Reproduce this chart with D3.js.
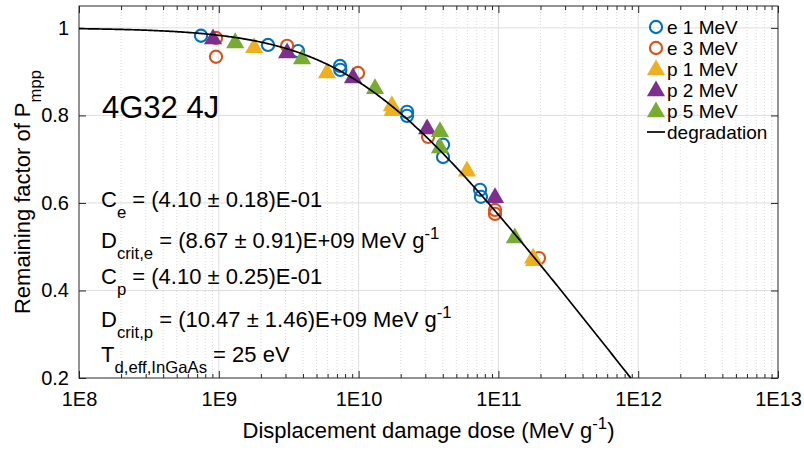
<!DOCTYPE html>
<html>
<head>
<meta charset="utf-8">
<script src="https://cdn.jsdelivr.net/npm/d3@7"></script>
<style>
  html, body { margin: 0; padding: 0; background: #fff; }
  svg { display: block; font-family: "Liberation Sans", Arial, sans-serif; }
</style>
</head>
<body>
<svg id="chart" width="804" height="450"></svg>
<script>
// Axis ticks
const xTickValues = [1e8, 1e9, 1e10, 1e11, 1e12, 1e13];
const xTickLabels = ["1E8", "1E9", "1E10", "1E11", "1E12", "1E13"];
const yTickValues = [0.2, 0.4, 0.6, 0.8, 1];
const yTickLabels = ["0.2", "0.4", "0.6", "0.8", "1"];

// Measured remaining factor of Pmpp vs displacement damage dose (MeV/g)
const e1Dose   = [7.46e8, 2.25e9, 3.69e9, 7.36e9, 7.4e9, 2.22e10, 2.22e10, 4.02e10, 4.02e10, 7.39e10, 7.5e10];
const e1Factor = [0.982, 0.961, 0.947, 0.913, 0.904, 0.808, 0.799, 0.733, 0.705, 0.630, 0.614];

const e3Dose   = [9.55e8, 9.55e8, 3.08e9, 9.9e9, 3.14e10, 9.46e10, 9.46e10, 1.95e11];
const e3Factor = [0.977, 0.934, 0.959, 0.897, 0.751, 0.584, 0.575, 0.474];

const p1Dose   = [1.79e9, 5.94e9, 1.73e10, 1.75e10, 5.96e10, 1.77e11, 1.8e11];
const p1Factor = [0.957, 0.899, 0.824, 0.813, 0.675, 0.476, 0.470];

const p2Dose   = [9.09e8, 3.08e9, 9.12e9, 3.09e10, 9.46e10];
const p2Factor = [0.977, 0.945, 0.888, 0.771, 0.614];

const p5Dose   = [1.31e9, 3.94e9, 1.31e10, 3.82e10, 3.82e10, 1.31e11];
const p5Factor = [0.968, 0.931, 0.863, 0.765, 0.728, 0.522];

// Degradation model: 1 - C * log10(1 + D / Dcrit)
const fitC = 0.41;
const fitDcrit = 1.0e10;

const seriesNames  = ["e 1 MeV", "e 3 MeV", "p 1 MeV", "p 2 MeV", "p 5 MeV"];
const seriesColors = ["#0072BD", "#D95319", "#EDB120", "#7E2F8E", "#77AC30"];
const seriesShapes = ["circle", "circle", "triangle", "triangle", "triangle"];
const seriesDose   = [e1Dose, e3Dose, p1Dose, p2Dose, p5Dose];
const seriesFactor = [e1Factor, e3Factor, p1Factor, p2Factor, p5Factor];

const margin = { left: 79, right: 26, top: 6, bottom: 72 };
const W = 804, H = 450;
const pw = W - margin.left - margin.right;
const ph = H - margin.top - margin.bottom;

const svg = d3.select("#chart");
const x = d3.scaleLog().domain([1e8, 1e13]).range([margin.left, margin.left + pw]);
const y = d3.scaleLinear().domain([0.2, 1.05]).range([margin.top + ph, margin.top]);

const axisColor = "#262626";

// Minor grid (log decades)
const minorX = [];
for (let e = 8; e < 13; e++) for (let k = 2; k <= 9; k++) minorX.push(k * Math.pow(10, e));

const grid = svg.append("g");
grid.selectAll("line.minor").data(minorX).join("line")
  .attr("x1", d => x(d)).attr("x2", d => x(d))
  .attr("y1", margin.top).attr("y2", margin.top + ph)
  .attr("stroke", "#cfcfcf").attr("stroke-width", 0.7).attr("stroke-dasharray", "1,2");
grid.selectAll("line.mx").data(xTickValues.slice(1, -1)).join("line")
  .attr("x1", d => x(d)).attr("x2", d => x(d))
  .attr("y1", margin.top).attr("y2", margin.top + ph)
  .attr("stroke", "#dedede").attr("stroke-width", 1);
grid.selectAll("line.my").data(yTickValues.slice(1)).join("line")
  .attr("y1", d => y(d)).attr("y2", d => y(d))
  .attr("x1", margin.left).attr("x2", margin.left + pw)
  .attr("stroke", "#dedede").attr("stroke-width", 1);

// Axes with inward ticks (box on all four sides)
function styleAxis(g) {
  g.selectAll("path.domain").remove();
  g.selectAll(".tick line").attr("stroke", axisColor);
  g.selectAll(".tick text").attr("fill", "#000").attr("font-size", 20)
    .attr("font-family", "Liberation Sans, Arial, sans-serif");
}
const xAxisBottom = d3.axisBottom(x).tickValues(xTickValues)
  .tickFormat((d, i) => xTickLabels[i]).tickSizeInner(-7).tickSizeOuter(0).tickPadding(14);
svg.append("g").attr("transform", `translate(0,${margin.top + ph})`).call(xAxisBottom).call(styleAxis);
const xAxisTop = d3.axisTop(x).tickValues(xTickValues).tickFormat("").tickSizeInner(-7).tickSizeOuter(0);
svg.append("g").attr("transform", `translate(0,${margin.top})`).call(xAxisTop).call(styleAxis);
const xMinorBottom = d3.axisBottom(x).tickValues(minorX).tickFormat("").tickSizeInner(-4).tickSizeOuter(0);
svg.append("g").attr("transform", `translate(0,${margin.top + ph})`).call(xMinorBottom).call(styleAxis);
const xMinorTop = d3.axisTop(x).tickValues(minorX).tickFormat("").tickSizeInner(-4).tickSizeOuter(0);
svg.append("g").attr("transform", `translate(0,${margin.top})`).call(xMinorTop).call(styleAxis);

const yAxisLeft = d3.axisLeft(y).tickValues(yTickValues)
  .tickFormat((d, i) => yTickLabels[i]).tickSizeInner(-7).tickSizeOuter(0).tickPadding(10);
svg.append("g").attr("transform", `translate(${margin.left},0)`).call(yAxisLeft).call(styleAxis);
const yAxisRight = d3.axisRight(y).tickValues(yTickValues).tickFormat("").tickSizeInner(-7).tickSizeOuter(0);
svg.append("g").attr("transform", `translate(${margin.left + pw},0)`).call(yAxisRight).call(styleAxis);

svg.append("rect").attr("x", margin.left).attr("y", margin.top)
  .attr("width", pw).attr("height", ph)
  .attr("fill", "none").attr("stroke", axisColor).attr("stroke-width", 1);

// Clip region for data
svg.append("clipPath").attr("id", "plotClip").append("rect")
  .attr("x", margin.left).attr("y", margin.top).attr("width", pw).attr("height", ph);

function trianglePath(s) {
  return `M0,${-s * 0.58}L${s * 0.55},${s * 0.38}L${-s * 0.55},${s * 0.38}Z`;
}

const circleR = 6.1, triSize = 16.5;

// Data markers
const marks = svg.append("g").attr("clip-path", "url(#plotClip)");
seriesNames.forEach((name, si) => {
  const pts = seriesDose[si].map((d, i) => [d, seriesFactor[si][i]]);
  const g = marks.append("g");
  if (seriesShapes[si] === "circle") {
    g.selectAll("circle").data(pts).join("circle")
      .attr("cx", d => x(d[0])).attr("cy", d => y(d[1])).attr("r", circleR)
      .attr("fill", "none").attr("stroke", seriesColors[si]).attr("stroke-width", 2.1);
  } else {
    g.selectAll("path").data(pts).join("path")
      .attr("transform", d => `translate(${x(d[0])},${y(d[1])})`)
      .attr("d", trianglePath(triSize)).attr("fill", seriesColors[si]);
  }
});

// Degradation curve
const curveDose = d3.range(8, 13.001, 0.01).map(e => Math.pow(10, e));
const line = d3.line().x(d => x(d)).y(d => y(1 - fitC * Math.log10(1 + d / fitDcrit)));
marks.append("path").datum(curveDose).attr("d", line)
  .attr("fill", "none").attr("stroke", "#000").attr("stroke-width", 1.7);

// Rich text helper: segments of [text, "n"|"sub"|"sup"]
function richText(parent, xPos, yPos, segs, size, opts = {}) {
  const t = parent.append("text").attr("x", xPos).attr("y", yPos)
    .attr("font-size", size).attr("fill", "#000");
  if (opts.anchor) t.attr("text-anchor", opts.anchor);
  if (opts.transform) t.attr("transform", opts.transform);
  let cur = 0;
  const small = size * 0.76;
  segs.forEach(([txt, kind]) => {
    let target = 0;
    if (kind === "sub") target = size * 0.48;
    if (kind === "sup") target = -size * 0.42;
    t.append("tspan").attr("dy", target - cur)
      .attr("font-size", kind === "n" ? size : small).text(txt);
    cur = target;
  });
  return t;
}

const ann = svg.append("g");
ann.append("text").attr("x", 102).attr("y", 118).attr("font-size", 31).text("4G32 4J");
const annSize = 22;
richText(ann, 101, 207, [["C", "n"], ["e", "sub"], [" = (4.10 ± 0.18)E-01", "n"]], annSize);
richText(ann, 101, 248, [["D", "n"], ["crit,e", "sub"], [" = (8.67 ± 0.91)E+09 MeV g", "n"], ["-1", "sup"]], annSize);
richText(ann, 101, 284, [["C", "n"], ["p", "sub"], [" = (4.10 ± 0.25)E-01", "n"]], annSize);
richText(ann, 101, 327, [["D", "n"], ["crit,p", "sub"], [" = (10.47 ± 1.46)E+09 MeV g", "n"], ["-1", "sup"]], annSize);
richText(ann, 101, 362, [["T", "n"], ["d,eff,InGaAs", "sub"], [" = 25 eV", "n"]], annSize);

// Axis titles
richText(svg, margin.left + pw / 2, 438,
  [["Displacement damage dose (MeV g", "n"], ["-1", "sup"], [")", "n"]], 22, { anchor: "middle" });
richText(svg, 0, 0, [["Remaining factor of P", "n"], ["mpp", "sub"]], 22,
  { anchor: "middle", transform: `translate(30,${margin.top + ph / 2}) rotate(-90)` });

// Legend
const legend = svg.append("g");
const legX = 656, legY0 = 27, legDy = 21;
seriesNames.forEach((name, si) => {
  const cy = legY0 + si * legDy;
  if (seriesShapes[si] === "circle") {
    legend.append("circle").attr("cx", legX).attr("cy", cy).attr("r", circleR)
      .attr("fill", "none").attr("stroke", seriesColors[si]).attr("stroke-width", 2.1);
  } else {
    legend.append("path").attr("transform", `translate(${legX},${cy})`)
      .attr("d", trianglePath(triSize)).attr("fill", seriesColors[si]);
  }
  legend.append("text").attr("x", legX + 11).attr("y", cy + 7)
    .attr("font-size", 19).text(name);
});
const lineRowY = legY0 + seriesNames.length * legDy;
legend.append("line").attr("x1", legX - 9).attr("x2", legX + 9)
  .attr("y1", lineRowY).attr("y2", lineRowY).attr("stroke", "#000").attr("stroke-width", 1.7);
legend.append("text").attr("x", legX + 11).attr("y", lineRowY + 7)
  .attr("font-size", 19).text("degradation");
</script>
</body>
</html>
